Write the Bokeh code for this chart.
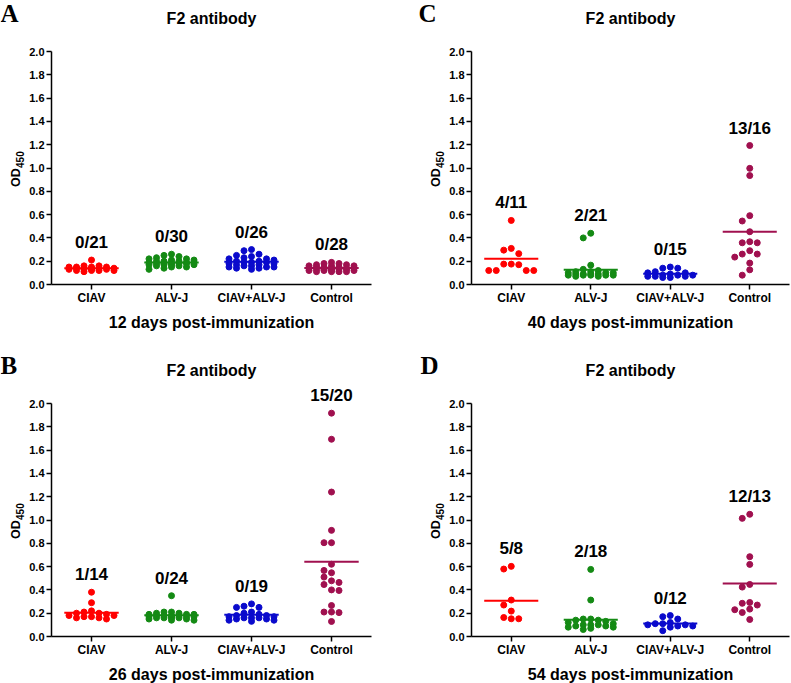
import numpy as np
from bokeh.plotting import figure
from bokeh.models import (Range1d, FixedTicker, PrintfTickFormatter,
                          ColumnDataSource, LabelSet, Label)
from bokeh.core.properties import value
from bokeh.layouts import column, row
from bokeh.embed import file_html
from bokeh.resources import INLINE

# ---------------- data ----------------
groups = ["CIAV", "ALV-J", "CIAV+ALV-J", "Control"]
colors = ["#FF0000", "#148A14", "#0A0ACC", "#A0104F"]
y_ticks = [0.0, 0.2, 0.4, 0.6, 0.8, 1.0, 1.2, 1.4, 1.6, 1.8, 2.0]

# 12 days (A)
d12_ciav = [0.21, 0.16, 0.16, 0.15, 0.15, 0.15, 0.15, 0.14, 0.14, 0.14, 0.14,
            0.14, 0.13, 0.13, 0.13, 0.13, 0.12, 0.12, 0.12, 0.12, 0.11]
d12_alvj = [0.26, 0.25, 0.24, 0.23, 0.22, 0.22, 0.21, 0.21, 0.20, 0.20, 0.20,
            0.19, 0.19, 0.19, 0.19, 0.18, 0.18, 0.18, 0.18, 0.18, 0.17, 0.17,
            0.17, 0.17, 0.16, 0.16, 0.15, 0.15, 0.14, 0.13]
d12_co = [0.30, 0.29, 0.26, 0.25, 0.24, 0.23, 0.22, 0.22, 0.21, 0.20, 0.20,
          0.19, 0.19, 0.19, 0.18, 0.18, 0.17, 0.17, 0.16, 0.16, 0.15, 0.15,
          0.15, 0.14, 0.14, 0.13]
d12_ctrl = [0.19, 0.18, 0.18, 0.17, 0.17, 0.16, 0.16, 0.16, 0.15, 0.15, 0.15,
            0.14, 0.14, 0.14, 0.14, 0.13, 0.13, 0.13, 0.13, 0.13, 0.12, 0.12,
            0.12, 0.12, 0.11, 0.11, 0.11, 0.11]
d12_ratio = ["0/21", "0/30", "0/26", "0/28"]

# 26 days (B)
d26_ciav = [0.38, 0.29, 0.22, 0.21, 0.20, 0.20, 0.19, 0.18, 0.18, 0.17, 0.17,
            0.16, 0.16, 0.15]
d26_alvj = [0.35, 0.21, 0.21, 0.20, 0.20, 0.19, 0.19, 0.19, 0.18, 0.18, 0.18,
            0.18, 0.17, 0.17, 0.17, 0.17, 0.16, 0.16, 0.16, 0.16, 0.15, 0.15,
            0.14, 0.14]
d26_co = [0.28, 0.26, 0.25, 0.25, 0.21, 0.20, 0.19, 0.18, 0.18, 0.17, 0.17,
          0.16, 0.16, 0.16, 0.15, 0.15, 0.14, 0.14, 0.13]
d26_ctrl = [1.917, 1.693, 1.24, 0.911, 0.805, 0.805, 0.62, 0.567, 0.547, 0.51,
            0.478, 0.446, 0.464, 0.395, 0.40, 0.266, 0.21, 0.205, 0.21, 0.129]
d26_ratio = ["1/14", "0/24", "0/19", "15/20"]

# 40 days (C)
d40_ciav = [0.55, 0.31, 0.295, 0.265, 0.175, 0.17, 0.175, 0.12, 0.12, 0.12, 0.12]
d40_alvj = [0.44, 0.40, 0.166, 0.13, 0.12, 0.11, 0.11, 0.10, 0.10, 0.10, 0.09,
            0.09, 0.09, 0.09, 0.08, 0.08, 0.08, 0.08, 0.08, 0.07, 0.07]
d40_co = [0.15, 0.14, 0.14, 0.11, 0.10, 0.10, 0.09, 0.08, 0.08, 0.08, 0.07,
          0.07, 0.07, 0.06, 0.06]
d40_ctrl = [1.193, 0.997, 0.935, 0.591, 0.545, 0.453, 0.358, 0.358, 0.367,
            0.29, 0.261, 0.261, 0.235, 0.184, 0.126, 0.08]
d40_ratio = ["4/11", "2/21", "0/15", "13/16"]

# 54 days (D)
d54_ciav = [0.602, 0.579, 0.313, 0.27, 0.218, 0.163, 0.152, 0.152]
d54_alvj = [0.576, 0.313, 0.15, 0.15, 0.14, 0.14, 0.13, 0.12, 0.11, 0.10,
            0.10, 0.10, 0.09, 0.09, 0.08, 0.08, 0.07, 0.06]
d54_co = [0.18, 0.17, 0.15, 0.12, 0.11, 0.11, 0.10, 0.10, 0.09, 0.09, 0.08, 0.05]
d54_ctrl = [1.049, 1.014, 0.685, 0.619, 0.447, 0.424, 0.292, 0.285, 0.27,
            0.235, 0.23, 0.206, 0.146]
d54_ratio = ["5/8", "2/18", "0/12", "12/13"]

FONT = "Liberation Sans"


def swarm_offsets(vals, px_x, px_y, step=7.5, maxw=27.0, dist=6.5):
    vals = np.asarray(vals, float)
    order = np.argsort(-vals, kind="stable")
    cands = [0.0]
    k = 1
    while k * step <= maxw + 1e-9:
        cands += [-k * step, k * step]
        k += 1
    placed = []
    offs = np.zeros(len(vals))
    for i in order:
        ypx = vals[i] * px_y
        best, best_d = None, -1
        for c in cands:
            md = min((np.hypot(c - px, ypx - py) for px, py in placed),
                     default=1e9)
            if md >= dist:
                best = c
                break
            if md > best_d:
                best_d, best = md, c
        placed.append((best, ypx))
        offs[i] = best / px_x
    return offs


def make_panel(letter, day, series, ratios, W, H, ax_left, px_x, ax_top, px_y,
               letter_dx):
    # the whole canvas is the frame; axes are pinned inside it
    x0 = 0.5 - ax_left / px_x
    y1 = 2.0 + ax_top / px_y
    p = figure(frame_width=W, frame_height=H,
               min_border_left=0, min_border_right=0,
               min_border_top=0, min_border_bottom=0,
               x_range=Range1d(x0, x0 + W / px_x),
               y_range=Range1d(y1 - H / px_y, y1),
               output_backend="svg", toolbar_location=None)
    p.outline_line_color = None
    p.grid.visible = False
    p.background_fill_color = "white"
    p.border_fill_color = "white"

    for gi, vals in enumerate(series):
        xc = gi + 1
        offs = swarm_offsets(vals, px_x, px_y)
        src = ColumnDataSource(dict(x=xc + offs, y=vals))
        p.scatter("x", "y", source=src, size=6, color=colors[gi],
                  line_color=colors[gi])
        m = float(np.mean(vals))
        p.segment(x0=[xc - 0.34], x1=[xc + 0.34], y0=[m], y1=[m],
                  line_color=colors[gi], line_width=2)

    lsrc = ColumnDataSource(dict(x=[1, 2, 3, 4],
                                 y=[max(v) + 0.15 for v in series],
                                 t=ratios))
    p.add_layout(LabelSet(x="x", y="y", text="t", source=lsrc,
                          text_align="center", text_baseline="middle",
                          text_font=value(FONT), text_font_style="bold",
                          text_font_size="17px", text_color="black"))

    # panel title
    p.add_layout(Label(x=2.5, y=2.0 + 33 / px_y, text="F2 antibody",
                       text_font=FONT, text_font_style="bold",
                       text_font_size="16px", text_align="center",
                       text_baseline="middle", text_color="black"))
    # panel letter
    p.add_layout(Label(x=0.5 + letter_dx / px_x, y=2.0 + 38 / px_y,
                       text=letter, text_font="Liberation Serif",
                       text_font_style="bold", text_font_size="25px",
                       text_baseline="middle", text_align="left",
                       text_color="black"))
    # y axis title OD450 (450 as subscript)
    p.add_layout(Label(x=0.5 - 36 / px_x, y=0.918, text="OD", angle=np.pi / 2,
                       text_font=FONT, text_font_style="bold",
                       text_font_size="12.5px", text_align="center",
                       text_baseline="middle", text_color="black"))
    p.add_layout(Label(x=0.5 - 32 / px_x, y=1.072, text="450", angle=np.pi / 2,
                       text_font=FONT, text_font_style="bold",
                       text_font_size="10px", text_align="center",
                       text_baseline="middle", text_color="black"))

    xa = p.xaxis[0]
    xa.fixed_location = 0.0
    xa.bounds = (0.5, 4.5)
    xa.ticker = FixedTicker(ticks=[1, 2, 3, 4])
    xa.major_label_overrides = {i + 1: g for i, g in enumerate(groups)}
    xa.axis_label = f"{day} days post-immunization"
    ya = p.yaxis[0]
    ya.fixed_location = 0.5
    ya.bounds = (0.0, 2.0)
    ya.ticker = FixedTicker(ticks=y_ticks)
    ya.formatter = PrintfTickFormatter(format="%.1f")

    for ax in (xa, ya):
        ax.axis_line_color = "black"
        ax.axis_line_width = 1.5
        ax.major_tick_line_color = "black"
        ax.major_tick_line_width = 1.5
        ax.major_tick_out = 5
        ax.major_tick_in = 0
        ax.minor_tick_line_color = None
        ax.major_label_text_font = FONT
        ax.major_label_text_font_style = "bold"
        ax.major_label_text_color = "black"
        ax.axis_label_text_font = FONT
        ax.axis_label_text_font_style = "bold"
        ax.axis_label_text_color = "black"
    xa.major_label_text_font_size = "12px"
    xa.major_label_standoff = 1
    xa.axis_label_text_font_size = "16px"
    xa.axis_label_standoff = 6
    ya.major_label_text_font_size = "11px"
    ya.major_label_standoff = 2
    return p


PX_Y = 116.5
pA = make_panel("A", 12, [d12_ciav, d12_alvj, d12_co, d12_ctrl], d12_ratio,
                395, 340, 51, 80.0, 51, PX_Y, -51)
pC = make_panel("C", 40, [d40_ciav, d40_alvj, d40_co, d40_ctrl], d40_ratio,
                396, 340, 76, 79.5, 51, PX_Y, -53)
pB = make_panel("B", 26, [d26_ciav, d26_alvj, d26_co, d26_ctrl], d26_ratio,
                395, 343, 51, 80.0, 63, PX_Y, -51)
pD = make_panel("D", 54, [d54_ciav, d54_alvj, d54_co, d54_ctrl], d54_ratio,
                396, 343, 76, 79.5, 63, PX_Y, -51)

layout = column(row(pA, pC), row(pB, pD))
open("out.html", "w").write(file_html(layout, INLINE))
